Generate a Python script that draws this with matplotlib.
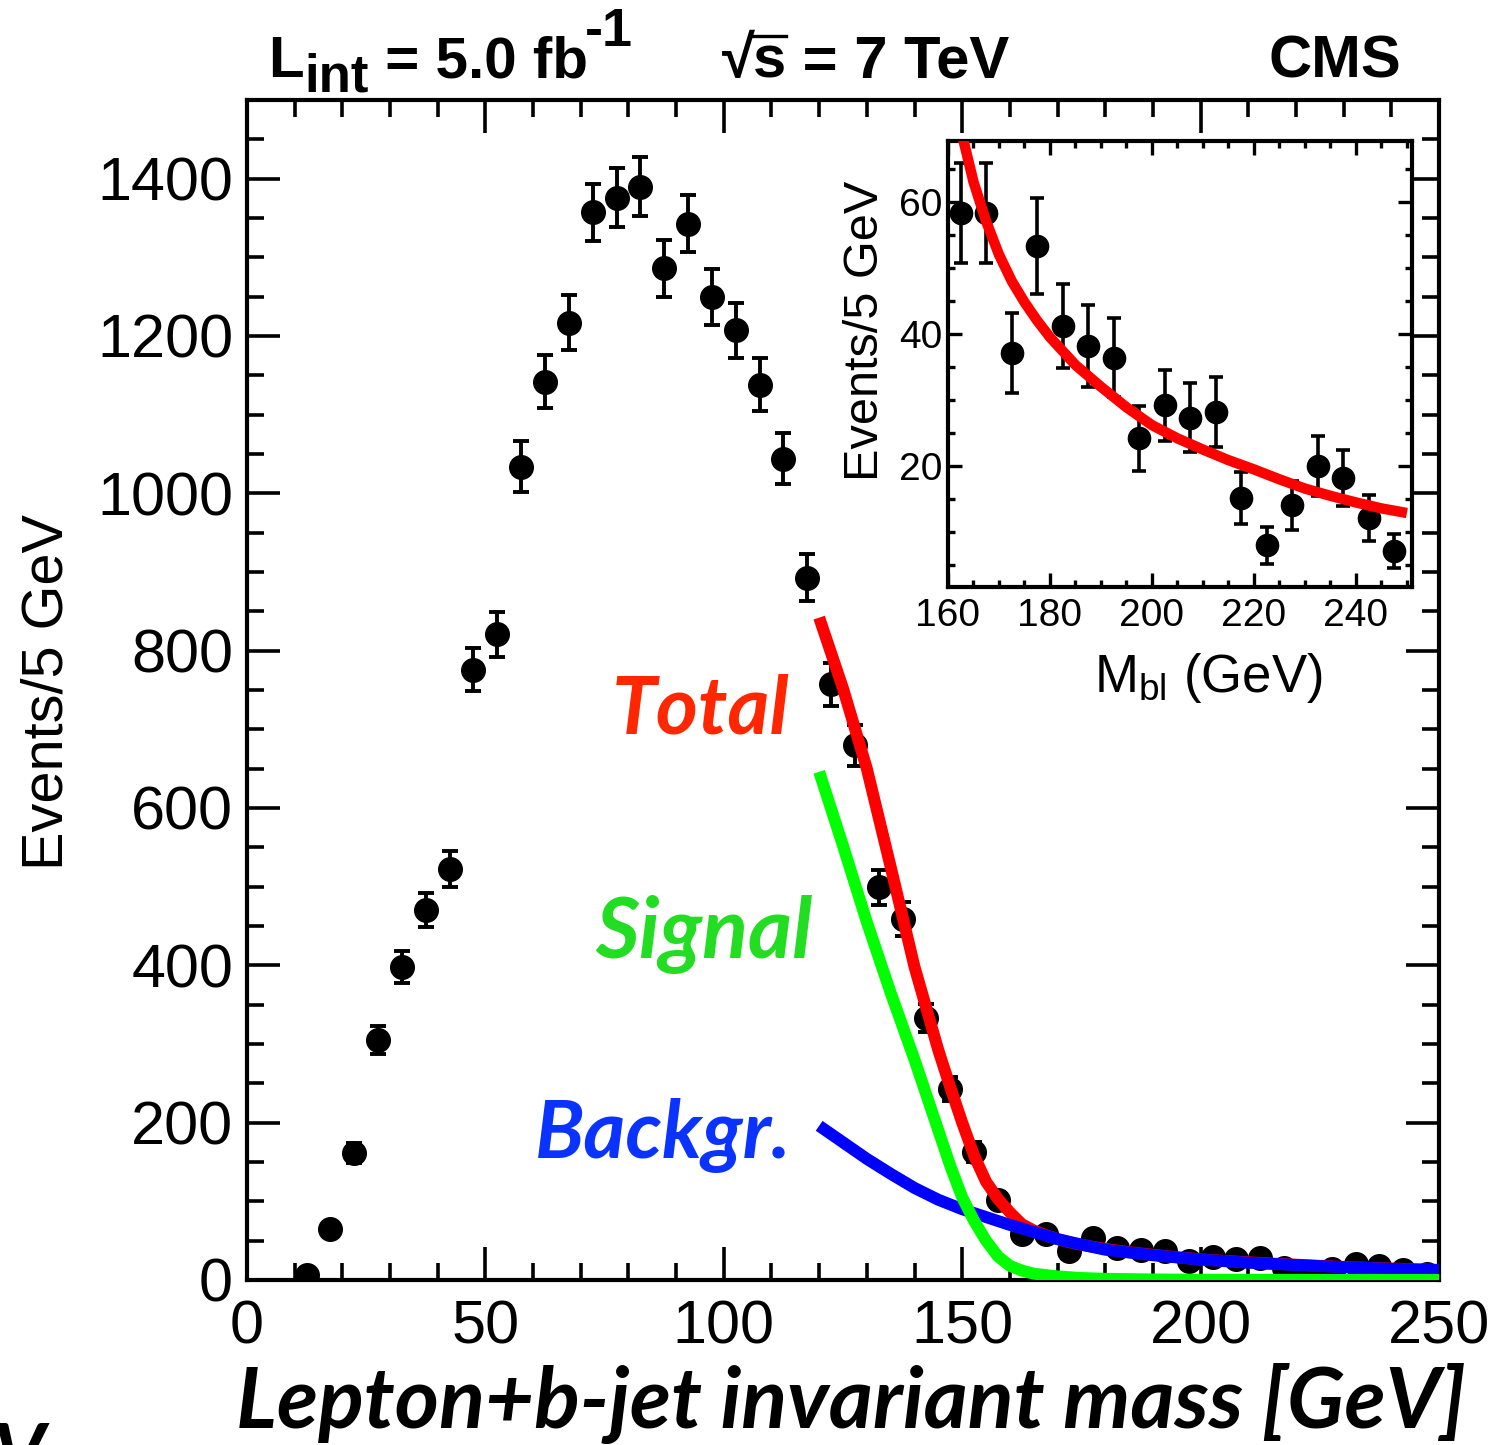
import matplotlib
matplotlib.use('Agg')
import matplotlib.pyplot as plt
from matplotlib.ticker import MultipleLocator
from matplotlib.lines import Line2D

plt.rcParams['font.family'] = ['Liberation Sans', 'DejaVu Sans']
plt.rcParams['mathtext.fontset'] = 'custom'
plt.rcParams['mathtext.rm'] = 'Liberation Sans'
plt.rcParams['mathtext.bf'] = 'Liberation Sans:bold'
plt.rcParams['mathtext.it'] = 'Liberation Sans:italic'

# ---------------- data ----------------
bin_centers = [12.5, 17.5, 22.5, 27.5, 32.5, 37.5, 42.5, 47.5, 52.5, 57.5,
               62.5, 67.5, 72.5, 77.5, 82.5, 87.5, 92.5, 97.5, 102.5, 107.5,
               112.5, 117.5, 122.5, 127.5, 132.5, 137.5, 142.5, 147.5, 152.5, 157.5,
               162.5, 167.5, 172.5, 177.5, 182.5, 187.5, 192.5, 197.5, 202.5, 207.5,
               212.5, 217.5, 222.5, 227.5, 232.5, 237.5, 242.5, 247.5]
events = [6, 65, 161, 305, 398, 470, 523, 776, 821, 1034,
          1142, 1217, 1357, 1376, 1390, 1286, 1343, 1250, 1207, 1138,
          1044, 893, 757, 680, 499, 459, 333, 243, 163, 102,
          58.3, 58.3, 37.1, 53.3, 41.2, 38.2, 36.4, 24.2, 29.2, 27.3,
          28.2, 15.2, 8.0, 14.1, 20.0, 18.2, 12.1, 7.1]
errors = [2.4, 8.1, 12.7, 17.5, 20.0, 21.7, 22.9, 27.9, 28.7, 32.2,
          33.8, 34.9, 36.8, 37.1, 37.3, 35.9, 36.6, 35.4, 34.7, 33.7,
          32.3, 29.9, 27.5, 26.1, 22.3, 21.4, 18.2, 15.6, 12.8, 10.1,
          7.6, 7.6, 6.1, 7.3, 6.4, 6.2, 6.0, 4.9, 5.4, 5.2,
          5.3, 3.9, 2.8, 3.7, 4.5, 4.2, 3.5, 2.6]

total_x = [120, 125, 130, 135, 140, 145, 147.5, 150, 152.5, 155, 157.5, 160, 162.5,
           165, 167.5, 170, 172.5, 175, 177.5, 180, 185, 190, 195, 200, 205, 210,
           215, 220, 225, 230, 235, 240, 245, 250]
total_y = [842, 752, 650, 525, 398, 292, 245, 200, 158, 125, 103, 86, 71,
           63, 57, 52, 48, 44.8, 42, 39.5, 35.3, 32, 28.9, 26.2, 24.2, 22.5,
           20.9, 19.5, 18, 16.6, 15.5, 14.5, 13.6, 12.9]

signal_x = [120, 125, 130, 135, 140, 145, 147.5, 150, 152.5, 155, 157.5, 160,
            162.5, 165, 170, 175, 180, 190, 200, 225, 250]
signal_y = [646, 552, 455, 365, 280, 190, 145, 105, 75, 50, 30, 18,
            12, 8, 4.5, 2.5, 1.5, 0.7, 0.3, 0.1, 0.05]

bkg_x = [120, 125, 130, 135, 140, 145, 150, 155, 160, 165, 170, 175, 180,
         190, 200, 210, 220, 230, 240, 250]
bkg_y = [196, 175, 154, 135, 117, 102, 90, 80, 70, 61, 52, 45, 38.5,
         31.5, 26, 22, 19, 16.3, 14.2, 12.5]

x_ticks = [0, 50, 100, 150, 200, 250]
y_ticks = [0, 200, 400, 600, 800, 1000, 1200, 1400]
inset_x_ticks = [160, 180, 200, 220, 240]
inset_y_ticks = [20, 40, 60]

# ---------------- layout helpers ----------------
W, H = 1510, 1445


def fx(px):
    return px / W


def fy(py):
    return 1 - py / H


fig = plt.figure(figsize=(W / 100, H / 100), dpi=100)
renderer = fig.canvas.get_renderer()


def right_px(t):
    return t.get_window_extent(renderer=renderer).x1


# ---------------- main axes ----------------
ax = fig.add_axes([fx(247), fy(1280), fx(1439) - fx(247), fy(100) - fy(1280)])
ax.set_xlim(0, 250)
ax.set_ylim(0, 1500)
ax.set_xticks(x_ticks)
ax.set_yticks(y_ticks)
ax.xaxis.set_minor_locator(MultipleLocator(10))
ax.yaxis.set_minor_locator(MultipleLocator(50))
ax.tick_params(which='both', direction='in', top=True, right=True, width=2.6)
ax.tick_params(which='major', length=24, labelsize=44)
ax.tick_params(which='minor', length=12)
ax.tick_params(axis='y', which='major', pad=10)
ax.tick_params(axis='x', which='major', pad=14)
for s in ax.spines.values():
    s.set_linewidth(3)

ax.errorbar(bin_centers, events, yerr=errors, fmt='o', color='black', ms=17,
            elinewidth=2.8, capsize=6, capthick=2.8, zorder=3)
ax.plot(total_x, total_y, color='#ff0000', lw=8.6, solid_capstyle='butt', zorder=4)
ax.plot(bkg_x, bkg_y, color='#0000ff', lw=8.6, solid_capstyle='butt', zorder=5)
ax.plot(signal_x, signal_y, color='#00ff00', lw=8.6, solid_capstyle='butt', zorder=6)

fig.text(fx(48), fy(692), 'Events/5 GeV', rotation=90, ha='center', va='center',
         fontsize=41.5)

lab_kw = dict(fontfamily='Lato', fontweight='bold', fontstyle='italic')
fig.text(fx(612), fy(733), 'Total', color='#ff2600', fontsize=58, ha='left',
         va='baseline', **lab_kw)
fig.text(fx(595), fy(958), 'Signal', color='#22dd22', fontsize=61, ha='left',
         va='baseline', **lab_kw)
fig.text(fx(535), fy(1158), 'Backgr.', color='#0a33ff', fontsize=58, ha='left',
         va='baseline', **lab_kw)

fig.text(fx(851), fy(1428), 'Lepton+b-jet invariant mass [GeV]', color='black',
         fontsize=61, ha='center', va='baseline', **lab_kw)
fig.text(fx(-8), fy(1421), 'V', color='black', fontsize=58, ha='left', va='top',
         **lab_kw)

# header: L_int = 5.0 fb^-1
hb = dict(fontweight='bold', va='baseline', ha='left', color='black')
t1 = fig.text(fx(268), fy(77), 'L', fontsize=42, **hb)
t2 = fig.text(fx(right_px(t1) + 1), fy(92), 'int', fontsize=38, **hb)
t3 = fig.text(fx(right_px(t2)), fy(77), ' = 5.0 fb', fontsize=42, **hb)
t4 = fig.text(fx(right_px(t3) - 3), fy(46), '-1', fontsize=39, **hb)

# header: sqrt(s) = 7 TeV
t5 = fig.text(fx(722), fy(77), '\u221a', fontsize=43, **hb)
t6 = fig.text(fx(right_px(t5) - 2), fy(77), 's', fontsize=43, **hb)
t7 = fig.text(fx(right_px(t6)), fy(77), ' = 7 TeV', fontsize=43, **hb)
bb5 = t5.get_window_extent(renderer=renderer)
bb6 = t6.get_window_extent(renderer=renderer)
fig.add_artist(Line2D([fx(bb5.x1 - 4), fx(bb6.x1)], [bb5.y1 / H - 2.0 / H] * 2,
                      transform=fig.transFigure, color='black', lw=2.4))

fig.text(fx(1401), fy(77), 'CMS', fontsize=43, **dict(hb, ha='right'))

# ---------------- inset ----------------
axi = fig.add_axes([fx(948), fy(587), fx(1412) - fx(948), fy(141) - fy(587)])
axi.set_xlim(160, 251)
axi.set_ylim(1.7, 69.2)
axi.set_xticks(inset_x_ticks)
axi.set_yticks(inset_y_ticks)
axi.xaxis.set_minor_locator(MultipleLocator(5))
axi.yaxis.set_minor_locator(MultipleLocator(5))
axi.tick_params(which='both', direction='in', top=True, right=True, width=2.4)
axi.tick_params(which='major', length=10, labelsize=28)
axi.tick_params(which='minor', length=5)
axi.tick_params(axis='y', which='major', pad=4)
axi.tick_params(axis='x', which='major', pad=8)
for s in axi.spines.values():
    s.set_linewidth(3)

sel = [i for i, xv in enumerate(bin_centers) if xv > 160]
axi.errorbar([bin_centers[i] for i in sel], [events[i] for i in sel],
             yerr=[errors[i] for i in sel], fmt='o', color='black', ms=16,
             elinewidth=2.6, capsize=5, capthick=2.6, zorder=3)
axi.plot(total_x, total_y, color='#ff0000', lw=7.5, solid_capstyle='butt', zorder=4)

fig.text(fx(866), fy(331), 'Events/5 GeV', rotation=90, ha='center', va='center',
         fontsize=35)
fig.text(fx(1208), fy(692), r'M$_{\mathrm{bl}}$ (GeV)', ha='center', va='baseline',
         fontsize=38)

fig.savefig('out.png', dpi=100)
